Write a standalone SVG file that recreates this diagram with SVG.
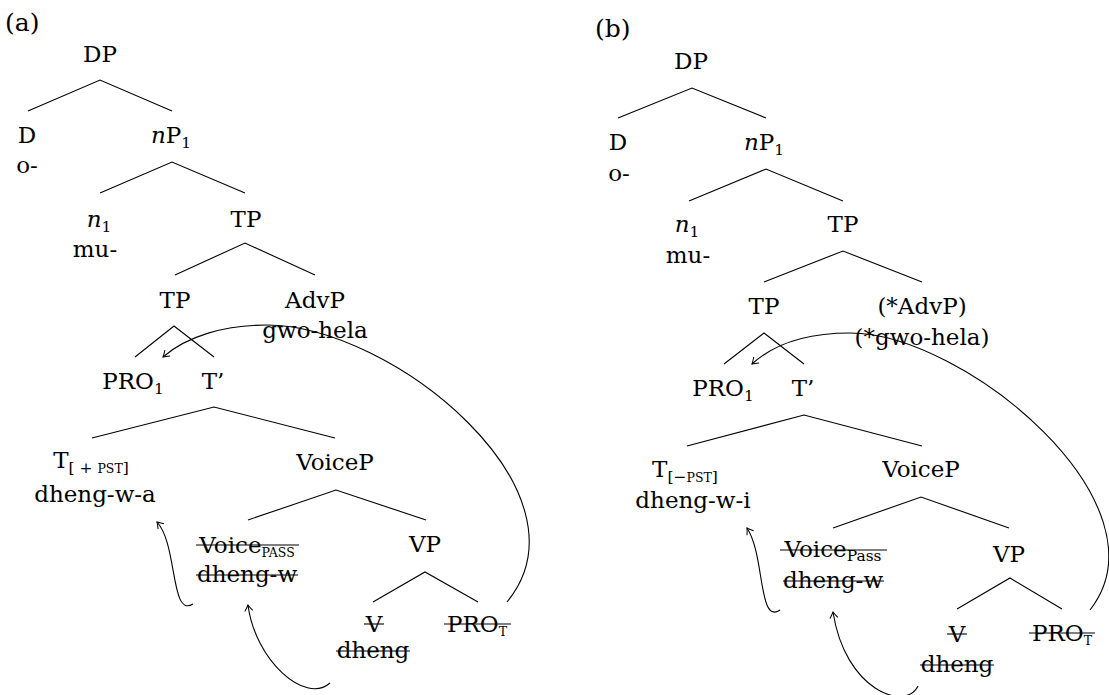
<svg xmlns="http://www.w3.org/2000/svg" width="1109" height="695" viewBox="0 0 1109 695">
<defs>
<style>
text{font-family:"DejaVu Serif","Liberation Serif",serif;font-size:23px;fill:#000;text-anchor:middle}
.lbl{text-anchor:start;font-size:25px}
.sub{font-size:15.5px}
.sc{font-size:12.5px}
.it{font-style:italic}
.edge{stroke:#000;stroke-width:1.1;fill:none}
.strike{stroke:#000;stroke-width:1.1}
.arc{stroke:#000;stroke-width:1.1;fill:none;marker-end:url(#arr)}
</style>
<marker id="arr" markerUnits="userSpaceOnUse" markerWidth="12" markerHeight="12" viewBox="-8 -6 10 12" refX="0" refY="0" orient="auto">
<path d="M-6,-4 Q-2,-1 0,0 Q-2,1 -6,4" fill="none" stroke="#000" stroke-width="1"/>
</marker>
</defs>
<rect width="1109" height="695" fill="#fff"/>
<text class="lbl" x="5" y="31">(a)</text>
<text class="lbl" x="595" y="37">(b)</text>

<g id="connectors">
<!-- tree (a) edges -->
<path class="edge" d="M28,111 L100,80 L172,111"/>
<path class="edge" d="M100,193 L172,162 L245,193"/>
<path class="edge" d="M175,275 L245,243 L315,275"/>
<path class="edge" d="M135,357 L174,326 L214,357"/>
<path class="edge" d="M92,438 L214,407 L335,438"/>
<path class="edge" d="M248,520 L336,490 L426,520"/>
<path class="edge" d="M373,602 L425,572 L478,602"/>
<!-- tree (b) edges -->
<path class="edge" d="M618,118 L692,88 L766,118"/>
<path class="edge" d="M689,201 L766,169 L843,201"/>
<path class="edge" d="M764,282 L843,251 L922,282"/>
<path class="edge" d="M724,364 L764,333 L804,364"/>
<path class="edge" d="M687,446 L804,415 L922,446"/>
<path class="edge" d="M833,528 L921,497 L1009,528"/>
<path class="edge" d="M957,609 L1010,578 L1062,609"/>
<!-- movement arrows (a) -->
<path class="arc" d="M507,602 C597,492 392,325 267,325 C225,325 187,336 163,357"/>
<path class="arc" d="M330,683 C305,705 255,660 248,605"/>
<path class="arc" d="M193,604 C170,618 178,545 157,522"/>
<!-- movement arrows (b) -->
<path class="arc" d="M1090,610 C1172,505 965,333 850,333 C810,333 775,343 752,364"/>
<path class="arc" d="M918,686 C905,712 845,690 833,612"/>
<path class="arc" d="M780,610 C758,625 765,555 747,528"/>
</g>

<!-- tree (a) nodes -->
<g id="a-DP"><text x="100" y="62">DP</text></g>
<g id="a-D"><text x="27" y="143">D</text><text x="27" y="173">o-</text></g>
<g id="a-nP"><text x="171" y="143"><tspan class="it">n</tspan>P<tspan class="sub" dy="5">1</tspan></text></g>
<g id="a-n"><text x="99" y="227"><tspan class="it">n</tspan><tspan class="sub" dy="5">1</tspan></text><text x="95" y="257">mu-</text></g>
<g id="a-TP1"><text x="246" y="227">TP</text></g>
<g id="a-TP2"><text x="175" y="308">TP</text></g>
<g id="a-AdvP"><text x="315" y="308">AdvP</text><text x="315" y="338">gwo-hela</text></g>
<g id="a-PRO1"><text x="133" y="389">PRO<tspan class="sub" dy="5">1</tspan></text></g>
<g id="a-Tbar"><text x="213" y="389">T’</text></g>
<g id="a-T"><text x="91" y="468">T<tspan class="sub" dy="5">[ + </tspan><tspan class="sc">PST</tspan><tspan class="sub">]</tspan></text><text x="95" y="502">dheng-w-a</text></g>
<g id="a-VoiceP"><text x="335" y="470">VoiceP</text></g>
<g id="a-Voice"><text x="247" y="553">Voice<tspan class="sc" dy="4">PASS</tspan></text><text x="247" y="582">dheng-w</text>
<line class="strike" x1="196" y1="545" x2="299" y2="545"/><line class="strike" x1="196" y1="575" x2="298" y2="575"/></g>
<g id="a-VP"><text x="425" y="552">VP</text></g>
<g id="a-V"><text x="374" y="632">V</text><text x="373" y="658">dheng</text>
<line class="strike" x1="364" y1="624" x2="384" y2="624"/><line class="strike" x1="336" y1="651" x2="410" y2="651"/></g>
<g id="a-PROT"><text x="477" y="632">PRO<tspan class="sc" dy="4">T</tspan></text>
<line class="strike" x1="444" y1="624" x2="511" y2="624"/></g>

<!-- tree (b) nodes -->
<g id="b-DP"><text x="691" y="69">DP</text></g>
<g id="b-D"><text x="618" y="150">D</text><text x="619" y="181">o-</text></g>
<g id="b-nP"><text x="764" y="150"><tspan class="it">n</tspan>P<tspan class="sub" dy="5">1</tspan></text></g>
<g id="b-n"><text x="687" y="232"><tspan class="it">n</tspan><tspan class="sub" dy="5">1</tspan></text><text x="688" y="263">mu-</text></g>
<g id="b-TP1"><text x="843" y="232">TP</text></g>
<g id="b-TP2"><text x="764" y="314">TP</text></g>
<g id="b-AdvP"><text x="922" y="314">(*AdvP)</text><text x="922" y="345">(*gwo-hela)</text></g>
<g id="b-PRO1"><text x="723" y="396">PRO<tspan class="sub" dy="5">1</tspan></text></g>
<g id="b-Tbar"><text x="803" y="396">T’</text></g>
<g id="b-T"><text x="685" y="477">T<tspan class="sub" dy="5">[−</tspan><tspan class="sc">PST</tspan><tspan class="sub">]</tspan></text><text x="693" y="508">dheng-w-i</text></g>
<g id="b-VoiceP"><text x="921" y="477">VoiceP</text></g>
<g id="b-Voice"><text x="833" y="557">Voice<tspan class="sub" dy="4">Pass</tspan></text><text x="833" y="588">dheng-w</text>
<line class="strike" x1="780" y1="550" x2="887" y2="550"/><line class="strike" x1="783" y1="581" x2="884" y2="581"/></g>
<g id="b-VP"><text x="1009" y="562">VP</text></g>
<g id="b-V"><text x="957" y="642">V</text><text x="957" y="672">dheng</text>
<line class="strike" x1="947" y1="634" x2="967" y2="634"/><line class="strike" x1="920" y1="665" x2="994" y2="665"/></g>
<g id="b-PROT"><text x="1062" y="641">PRO<tspan class="sc" dy="4">T</tspan></text>
<line class="strike" x1="1029" y1="633" x2="1095" y2="633"/></g>
</svg>
